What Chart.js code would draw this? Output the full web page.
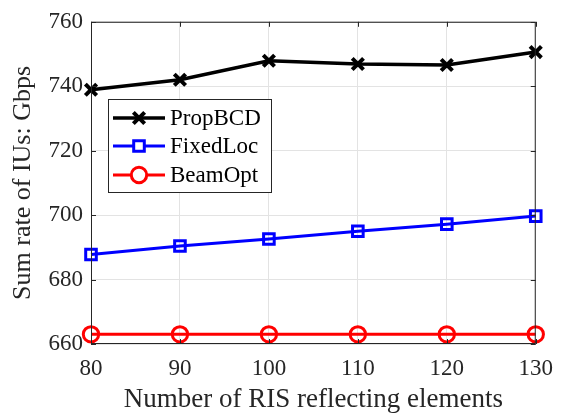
<!DOCTYPE html>
<html>
<head>
<meta charset="utf-8">
<script src="https://cdn.jsdelivr.net/npm/chart.js@4/dist/chart.umd.min.js"></script>
<style>
  html, body { margin: 0; padding: 0; background: #fff; }
  #wrap { width: 564px; height: 416px; }
</style>
</head>
<body>
<div id="wrap"><canvas id="c" width="564" height="416"></canvas></div>
<script>
// Number of RIS reflecting elements
const elements = [80, 90, 100, 110, 120, 130];
// Sum rate (Gbps) for each scheme
const propBCD = [738.9, 742.0, 747.9, 746.9, 746.6, 750.6];
const fixedLoc = [687.8, 690.4, 692.6, 695.0, 697.2, 699.7];
const beamOpt = [663.0, 663.0, 663.0, 663.0, 663.0, 663.0];
const seriesNames = ['PropBCD', 'FixedLoc', 'BeamOpt'];
const yTicks = [660, 680, 700, 720, 740, 760];
const xTicks = [80, 90, 100, 110, 120, 130];

const FONT = '"Liberation Serif", "Times New Roman", serif';
const AXIS = '#262626';

const toPts = arr => arr.map((v, i) => ({ x: elements[i], y: v }));

// Box frame, inward tick marks and an in-plot legend
const framePlugin = {
  id: 'frame',
  afterDatasetsDraw(chart) {
    const { ctx, chartArea: a, scales } = chart;
    ctx.save();
    ctx.strokeStyle = AXIS;
    ctx.lineWidth = 1;
    ctx.strokeRect(a.left + 0.5, a.top + 0.5, a.right - a.left - 1, a.bottom - a.top - 1);
    const tl = 5;
    ctx.beginPath();
    yTicks.forEach(v => {
      const y = Math.round(scales.y.getPixelForValue(v)) + 0.5;
      ctx.moveTo(a.left, y); ctx.lineTo(a.left + tl, y);
      ctx.moveTo(a.right, y); ctx.lineTo(a.right - tl, y);
    });
    xTicks.forEach(v => {
      const x = Math.round(scales.x.getPixelForValue(v)) + 0.5;
      ctx.moveTo(x, a.bottom); ctx.lineTo(x, a.bottom - tl);
      ctx.moveTo(x, a.top); ctx.lineTo(x, a.top + tl);
    });
    ctx.stroke();

    // legend
    const lx = 108, ly = 99, lw = 163, lh = 93;
    ctx.fillStyle = '#fff';
    ctx.fillRect(lx, ly, lw, lh);
    ctx.strokeStyle = AXIS;
    ctx.lineWidth = 1;
    ctx.strokeRect(lx + 0.5, ly + 0.5, lw, lh);
    const rows = [118, 146, 175];
    chart.data.datasets.forEach((ds, i) => {
      const y = rows[i];
      ctx.strokeStyle = ds.borderColor;
      ctx.lineWidth = ds.borderWidth;
      ctx.beginPath();
      ctx.moveTo(113, y); ctx.lineTo(165, y);
      ctx.stroke();
      ctx.fillStyle = '#fff';
      ctx.strokeStyle = ds.pointBorderColor;
      ctx.lineWidth = ds.pointBorderWidth;
      Chart.helpers.drawPoint(ctx, {
        pointStyle: ds.pointStyle,
        radius: ds.pointRadius,
        borderWidth: ds.pointBorderWidth,
        rotation: 0
      }, 139, y);
      ctx.fillStyle = '#000';
      ctx.font = '23px ' + FONT;
      ctx.textBaseline = 'middle';
      ctx.textAlign = 'left';
      ctx.fillText(ds.label, 170, y + 1);
    });
    ctx.restore();
  }
};

new Chart(document.getElementById('c'), {
  type: 'line',
  data: {
    datasets: [
      {
        label: seriesNames[0], data: toPts(propBCD),
        borderColor: '#000000', backgroundColor: '#000000',
        borderWidth: 3.5, pointStyle: 'crossRot', pointRadius: 8,
        pointBorderWidth: 4, pointBorderColor: '#000000'
      },
      {
        label: seriesNames[1], data: toPts(fixedLoc),
        borderColor: '#0000ff', backgroundColor: 'rgba(0,0,0,0)',
        borderWidth: 3, pointStyle: 'rect', pointRadius: 7.5,
        pointBorderWidth: 3, pointBorderColor: '#0000ff'
      },
      {
        label: seriesNames[2], data: toPts(beamOpt),
        borderColor: '#ff0000', backgroundColor: 'rgba(0,0,0,0)',
        borderWidth: 3, pointStyle: 'circle', pointRadius: 7.7,
        pointBorderWidth: 3, pointBorderColor: '#ff0000'
      }
    ]
  },
  options: {
    responsive: false,
    animation: false,
    clip: false,
    layout: { padding: { left: 0, top: 18, right: 26, bottom: 0 } },
    plugins: { legend: { display: false }, tooltip: { enabled: false } },
    elements: { line: { tension: 0 } },
    scales: {
      x: {
        type: 'linear', min: 80, max: 130,
        afterBuildTicks: s => { s.ticks = xTicks.map(v => ({ value: v })); },
        afterFit: s => { s.height = 72; },
        grid: { color: '#e3e3e3', drawTicks: false, lineWidth: 1 },
        border: { display: false },
        ticks: { color: AXIS, font: { family: FONT, size: 23 }, padding: 11, maxRotation: 0 },
        title: { display: true, text: 'Number of RIS reflecting elements', color: AXIS,
                 font: { family: FONT, size: 27 }, padding: { top: 0, bottom: 0 } }
      },
      y: {
        type: 'linear', min: 660, max: 760,
        afterBuildTicks: s => { s.ticks = yTicks.map(v => ({ value: v })); },
        afterFit: s => { s.width = 91; },
        grid: { color: '#e3e3e3', drawTicks: false, lineWidth: 1 },
        border: { display: false },
        ticks: { color: AXIS, font: { family: FONT, size: 23 }, padding: 8 },
        title: { display: true, text: 'Sum rate of IUs: Gbps', color: AXIS,
                 font: { family: FONT, size: 26 }, padding: { top: 8, bottom: 0 } }
      }
    }
  },
  plugins: [framePlugin]
});
</script>
</body>
</html>
